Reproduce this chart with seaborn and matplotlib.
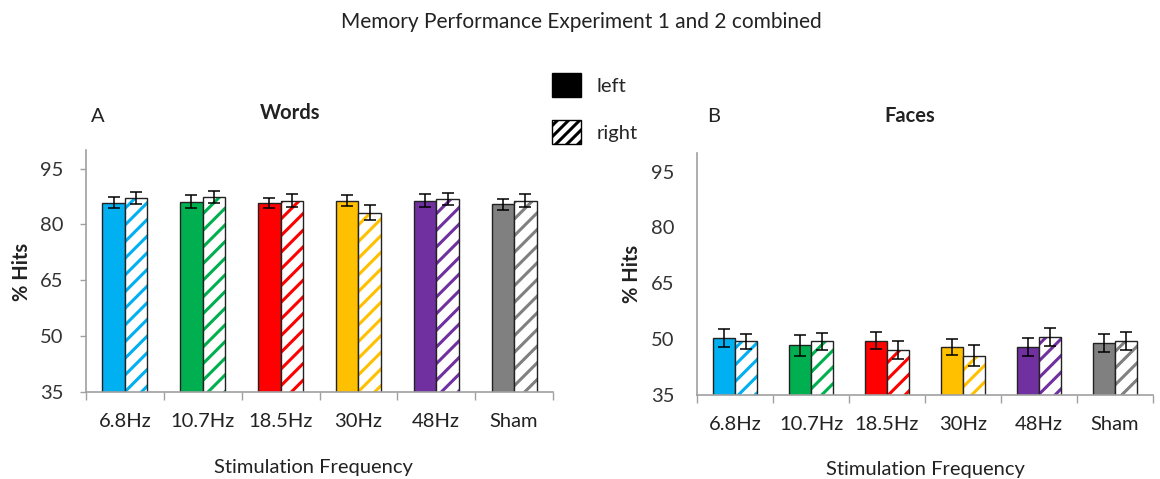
import numpy as np
import pandas as pd
import matplotlib
matplotlib.use('Agg')
import matplotlib.pyplot as plt
from matplotlib.patches import Patch
from matplotlib.colors import to_rgba
import seaborn as sns

sns.set_style('white')
plt.rcParams['font.family'] = ['Lato', 'DejaVu Sans']
plt.rcParams['hatch.linewidth'] = 2.2

# data
freqs = ['6.8Hz', '10.7Hz', '18.5Hz', '30Hz', '48Hz', 'Sham']
colors = ['#00B0F0', '#00B050', '#FF0000', '#FFC000', '#7030A0', '#808080']

words_left = [85.8, 86.1, 85.8, 86.4, 86.4, 85.4]
words_right = [87.1, 87.4, 86.4, 83.1, 86.8, 86.4]
words_left_err = [1.5, 1.8, 1.4, 1.4, 1.8, 1.4]
words_right_err = [1.7, 1.7, 1.7, 2.0, 1.7, 1.7]

faces_left = [50.3, 48.3, 49.6, 47.9, 47.9, 49.0]
faces_right = [49.4, 49.4, 47.1, 45.6, 50.6, 49.6]
faces_left_err = [2.4, 2.7, 2.3, 2.1, 2.4, 2.4]
faces_right_err = [2.0, 2.3, 2.3, 2.7, 2.4, 2.4]

yticks = [35, 50, 65, 80, 95]

W, H = 1160, 479
FS = 14.5
TXT = '#222222'
fig = plt.figure(figsize=(W / 100, H / 100), dpi=100)


def px(x, y):
    return x / W, 1 - y / H


def panel(rect, left, right, lerr, rerr, ytick_len):
    ax = fig.add_axes(rect)
    df = pd.DataFrame({
        'freq': freqs * 2,
        'side': ['left'] * 6 + ['right'] * 6,
        'value': left + right,
    })
    sns.barplot(data=df, x='freq', y='value', hue='side', order=freqs,
                hue_order=['left', 'right'], width=0.58, errorbar=None,
                legend=False, ax=ax)
    bars = list(ax.patches)[:12]
    errs = lerr + rerr
    vals = left + right
    for i, p in enumerate(bars):
        c = colors[i % 6]
        p.set_edgecolor('#222222')
        p.set_linewidth(1.0)
        if i < 6:
            p.set_facecolor(c)
        else:
            p.set_facecolor('white')
            p.set_hatch('//')
            p._hatch_color = to_rgba(c)
        xc = p.get_x() + p.get_width() / 2
        ax.errorbar(xc, vals[i], yerr=errs[i], color='black', lw=1.1,
                    capsize=4, capthick=1.1)
    ax.set_ylim(35, 100)
    ax.set_xlim(-0.5, 5.5)
    ax.set_yticks(yticks)
    ax.set_xticks(range(6))
    ax.set_xticklabels(freqs)
    ax.set_xticks(np.arange(-0.5, 6, 1), minor=True)
    ax.tick_params(axis='x', which='major', length=0, pad=15, labelsize=FS,
                   labelcolor=TXT)
    ax.tick_params(axis='x', which='minor', length=6, width=1, color='#a0a0a0',
                   bottom=True)
    ax.tick_params(axis='y', left=ytick_len > 0, length=ytick_len, width=1,
                   color='#a0a0a0', pad=16 - ytick_len, labelsize=FS,
                   labelcolor='#333333')
    ax.set_xlabel('')
    ax.set_ylabel('')
    sns.despine(ax=ax)
    for s in ['left', 'bottom']:
        ax.spines[s].set_color('#a0a0a0')
        ax.spines[s].set_linewidth(1.2)
    return ax


axA = panel([86 / W, 1 - 392 / H, 467 / W, 242 / H],
            words_left, words_right, words_left_err, words_right_err, 4)
axB = panel([697 / W, 1 - 395 / H, 456 / W, 242 / H],
            faces_left, faces_right, faces_left_err, faces_right_err, 0)

fig.text(*px(581, 22), 'Memory Performance Experiment 1 and 2 combined',
         ha='center', va='center', fontsize=15, color=TXT)
fig.text(*px(290, 113), 'Words', ha='center', va='center', fontsize=FS,
         fontweight='bold', color=TXT)
fig.text(*px(910, 116), 'Faces', ha='center', va='center', fontsize=FS,
         fontweight='bold', color=TXT)
fig.text(*px(98, 117), 'A', ha='center', va='center', fontsize=FS, color=TXT)
fig.text(*px(714, 117), 'B', ha='center', va='center', fontsize=FS, color=TXT)
fig.text(*px(22, 272), '% Hits', ha='center', va='center', fontsize=FS,
         fontweight='bold', rotation=90, color=TXT)
fig.text(*px(632, 274), '% Hits', ha='center', va='center', fontsize=FS,
         fontweight='bold', rotation=90, color=TXT)
fig.text(*px(313, 467), 'Stimulation Frequency', ha='center', va='center',
         fontsize=FS, color=TXT)
fig.text(*px(925, 470), 'Stimulation Frequency', ha='center', va='center',
         fontsize=FS, color=TXT)

handles = [Patch(facecolor='black', edgecolor='black'),
           Patch(facecolor='white', edgecolor='black', hatch='///')]
fig.legend(handles, ['left', 'right'], loc='upper left',
           bbox_to_anchor=px(534, 55), frameon=False, fontsize=FS,
           handlelength=1.45, handleheight=1.45, labelspacing=1.15,
           handletextpad=0.75)

fig.savefig('out.png', dpi=100)
